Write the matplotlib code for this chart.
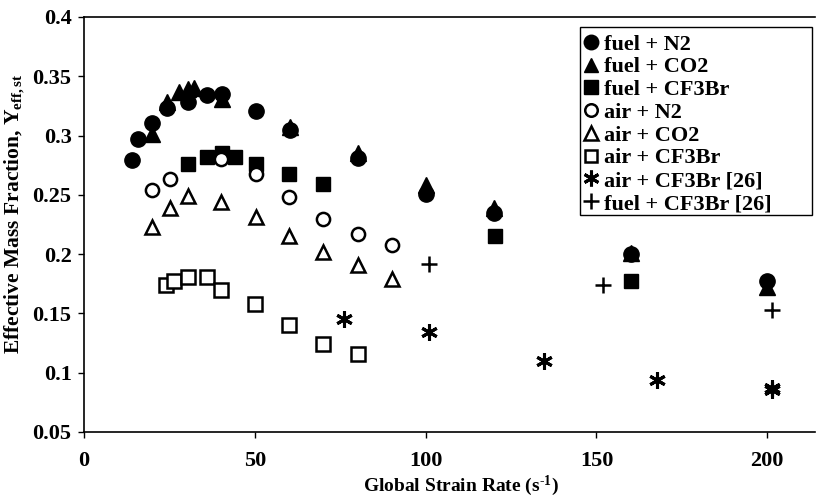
import matplotlib
matplotlib.use("Agg")
import matplotlib.pyplot as plt
from matplotlib.patches import Rectangle

plt.rcParams["font.family"] = ["Liberation Serif", "DejaVu Serif"]
plt.rcParams["font.weight"] = "bold"
plt.rcParams["mathtext.fontset"] = "custom"
plt.rcParams["mathtext.rm"] = "Liberation Serif:bold"
plt.rcParams["mathtext.it"] = "Liberation Serif:bold"
plt.rcParams["mathtext.bf"] = "Liberation Serif:bold"

# fuel + N2 (filled circles)
fuel_n2_x = [13.9, 15.9, 20.0, 24.2, 30.3, 36.1, 40.5, 50.3, 60.3, 80.3, 100.0, 120.0, 160.0, 200.0]
fuel_n2_y = [0.279, 0.297, 0.311, 0.323, 0.328, 0.334, 0.335, 0.321, 0.305, 0.281, 0.251, 0.235, 0.200, 0.177]

# fuel + CO2 (filled triangles)
fuel_co2_x = [20.0, 24.3, 27.8, 30.3, 32.2, 40.5, 60.3, 80.3, 100.0, 120.0, 160.0, 200.0]
fuel_co2_y = [0.301, 0.328, 0.337, 0.339, 0.340, 0.331, 0.307, 0.285, 0.258, 0.239, 0.201, 0.172]

# fuel + CF3Br (filled squares)
fuel_cf3br_x = [30.3, 36.1, 40.3, 44.2, 50.3, 60.1, 70.1, 120.2, 160.1]
fuel_cf3br_y = [0.276, 0.282, 0.285, 0.282, 0.276, 0.268, 0.259, 0.215, 0.177]

# air + N2 (open circles)
air_n2_x = [20.0, 25.2, 40.0, 50.3, 60.1, 70.1, 80.2, 90.1]
air_n2_y = [0.254, 0.263, 0.280, 0.268, 0.248, 0.230, 0.217, 0.208]

# air + CO2 (open triangles)
air_co2_x = [20.0, 25.2, 30.3, 40.0, 50.3, 60.1, 70.1, 80.2, 90.1]
air_co2_y = [0.223, 0.239, 0.249, 0.244, 0.231, 0.215, 0.202, 0.191, 0.179]

# air + CF3Br (open squares)
air_cf3br_x = [24.1, 26.2, 30.3, 36.1, 40.0, 50.1, 60.1, 70.1, 80.2]
air_cf3br_y = [0.174, 0.177, 0.181, 0.181, 0.170, 0.158, 0.140, 0.124, 0.116]

# air + CF3Br [26] (asterisks)
air_cf3br_ref_x = [76.2, 100.9, 134.5, 167.7, 201.4, 201.4]
air_cf3br_ref_y = [0.145, 0.134, 0.110, 0.094, 0.087, 0.085]

# fuel + CF3Br [26] (plus)
fuel_cf3br_ref_x = [100.9, 151.9, 201.4]
fuel_cf3br_ref_y = [0.192, 0.174, 0.153]

fig = plt.figure(figsize=(8.27, 4.97), dpi=100)
ax = fig.add_axes([0.1016, 0.1308, 0.884, 0.835])

filled = dict(linestyle="none", color="black", markeredgecolor="black")
hollow = dict(linestyle="none", color="black", markerfacecolor="white",
              markeredgecolor="black", markeredgewidth=1.8)

ax.plot(fuel_n2_x, fuel_n2_y, marker="o", markersize=11, label="fuel + N2", **filled)
ax.plot(fuel_co2_x, fuel_co2_y, marker="^", markersize=11, label="fuel + CO2", **filled)
ax.plot(fuel_cf3br_x, fuel_cf3br_y, marker="s", markersize=10, label="fuel + CF3Br", **filled)
ax.plot(air_n2_x, air_n2_y, marker="o", markersize=9.5, label="air + N2", **hollow)
ax.plot(air_co2_x, air_co2_y, marker="^", markersize=10, label="air + CO2", **hollow)
ax.plot(air_cf3br_x, air_cf3br_y, marker="s", markersize=9.5, label="air + CF3Br", **hollow)
ax.plot(air_cf3br_ref_x, air_cf3br_ref_y, marker=(6, 2, 0), markersize=12,
        linestyle="none", color="black", markeredgewidth=2.2, label="air + CF3Br [26]")
ax.plot(fuel_cf3br_ref_x, fuel_cf3br_ref_y, marker="+", markersize=12,
        linestyle="none", color="black", markeredgewidth=1.8, label="fuel + CF3Br [26]")

ax.set_xlim(0, 214)
ax.set_ylim(0.05, 0.4)
ax.set_xticks([0, 50, 100, 150, 200])
ax.set_yticks([0.05, 0.1, 0.15, 0.2, 0.25, 0.3, 0.35, 0.4])
ax.set_yticklabels(["0.05", "0.1", "0.15", "0.2", "0.25", "0.3", "0.35", "0.4"])
ax.tick_params(axis="both", labelsize=16, direction="out", length=4, width=1)
ax.tick_params(axis="x", pad=10)
ax.tick_params(axis="y", pad=5)
for lbl in ax.get_xticklabels() + ax.get_yticklabels():
    lbl.set_fontweight("bold")

ax.spines["right"].set_visible(False)
for s in ["left", "top", "bottom"]:
    ax.spines[s].set_linewidth(1.2)

ax.set_xlabel(r"Global Strain Rate (s$^{\text{-}1}$)", fontsize=14, fontweight="bold")
ax.set_ylabel("Effective Mass Fraction, Y$_{eff,st}$", fontsize=15.5, fontweight="bold")
ax.xaxis.set_label_coords(0.516, -0.1)
ax.yaxis.set_label_coords(-0.078, 0.525)

# legend box drawn separately so its right padding matches the original
ax.add_patch(Rectangle((0.678, 0.522), 0.318, 0.453, transform=ax.transAxes,
                       facecolor="white", edgecolor="black", linewidth=1.0,
                       zorder=4, clip_on=False))
leg = ax.legend(loc="upper left", bbox_to_anchor=(0.672, 0.975), fontsize=16,
                frameon=False, handlelength=0.8, handletextpad=0.2,
                labelspacing=0.1, borderpad=0.3, borderaxespad=0,
                markerscale=0.95)
leg.set_zorder(5)
for t in leg.get_texts():
    t.set_fontweight("bold")

fig.savefig("out.png", dpi=100)
